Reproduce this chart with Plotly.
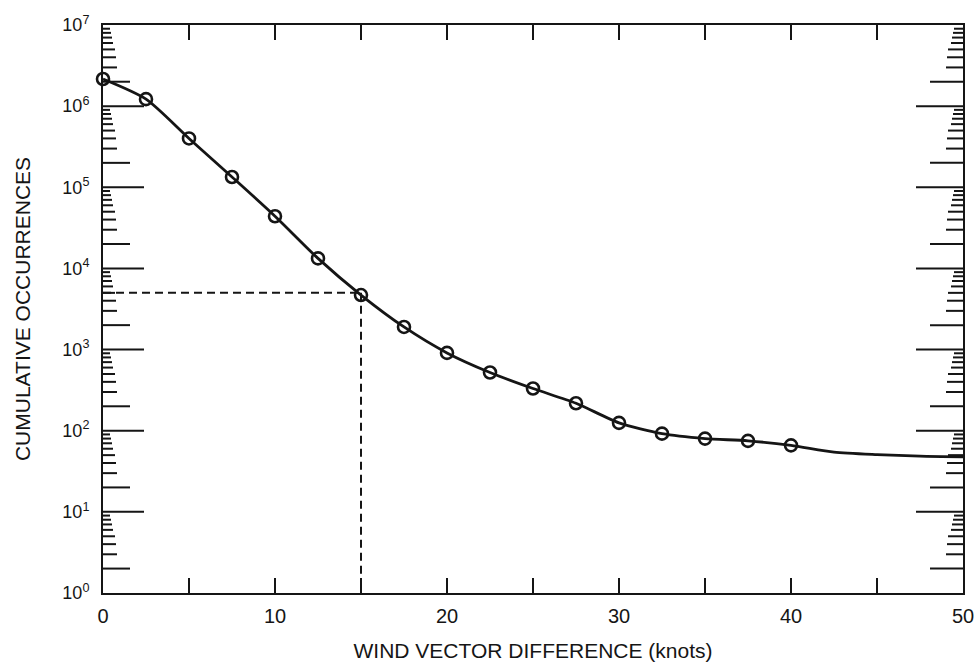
import plotly.graph_objects as go

# Cumulative occurrences observed at 2.5-knot steps of wind vector difference
wind_diff = [0, 2.5, 5, 7.5, 10, 12.5, 15, 17.5, 20, 22.5, 25, 27.5, 30,
             32.5, 35, 37.5, 40]
occurrences = [2.16e6, 1.22e6, 4.0e5, 1.34e5, 4.4e4, 1.33e4, 4.7e3, 1.9e3,
               910, 522, 331, 218, 125, 92, 80, 75, 66]

# Fitted curve continues beyond the last observation
tail_diff = [42.5, 45, 47.5, 50]
tail_occ = [54.5, 50.8, 48.6, 47.6]

# Reference level picked out with dashed guides
ref_diff = 15
ref_occ = 5000

# Axis ticks and labels
x_tickvals = [0, 5, 10, 15, 20, 25, 30, 35, 40, 45, 50]
x_ticktext = ["0", "", "10", "", "20", "", "30", "", "40", "", "50"]
decades = [0, 1, 2, 3, 4, 5, 6, 7]
y_tickvals = [10 ** d for d in decades]
y_ticktext = [f"10<sup>{d}</sup>" for d in decades]

INK = "#151515"
FONT = "Liberation Sans, Arial, Helvetica, sans-serif"

fig = go.Figure()

# dashed guides
fig.add_trace(go.Scatter(
    x=[0, ref_diff], y=[ref_occ, ref_occ], mode="lines",
    line=dict(color=INK, width=2, dash="8px,5px"), hoverinfo="skip",
    showlegend=False))
fig.add_trace(go.Scatter(
    x=[ref_diff, ref_diff], y=[ref_occ, 1], mode="lines",
    line=dict(color=INK, width=2, dash="8px,5px"), hoverinfo="skip",
    showlegend=False))

# smooth curve through the observations
fig.add_trace(go.Scatter(
    x=wind_diff + tail_diff, y=occurrences + tail_occ, mode="lines",
    line=dict(color=INK, width=2.8, shape="spline", smoothing=0.7),
    showlegend=False))

# observation markers
fig.add_trace(go.Scatter(
    x=wind_diff, y=occurrences, mode="markers", cliponaxis=False,
    marker=dict(symbol="circle-open", size=12, color=INK,
                line=dict(width=2.6, color=INK)),
    showlegend=False))

# log-axis minor ticks drawn inward from both vertical axes
left_len = {1: 41, 2: 27, 3: 14, 4: 13, 5: 12, 6: 10, 7: 9, 8: 8, 9: 7}
right_len = {1: 47, 2: 33, 3: 17, 4: 16, 5: 15, 6: 12, 7: 11, 8: 10, 9: 9}
shapes = []
for d in decades[:-1]:
    for m in range(1, 10):
        if m == 1 and d == 0:
            continue
        v = m * 10 ** d
        shapes.append(dict(type="line", xref="x", yref="y",
                           xsizemode="pixel", xanchor=x_tickvals[0],
                           x0=0, x1=left_len[m], y0=v, y1=v,
                           line=dict(color=INK, width=2), layer="above"))
        shapes.append(dict(type="line", xref="x", yref="y",
                           xsizemode="pixel", xanchor=x_tickvals[-1],
                           x0=0, x1=-right_len[m], y0=v, y1=v,
                           line=dict(color=INK, width=2), layer="above"))

fig.update_layout(
    width=974, height=662,
    margin=dict(l=103, r=11, t=25, b=69),
    paper_bgcolor="white", plot_bgcolor="white",
    font=dict(family=FONT, color=INK),
    shapes=shapes,
    xaxis=dict(
        range=[0, 50], tickvals=x_tickvals, ticktext=x_ticktext,
        ticks="inside", ticklen=15, tickwidth=2, tickcolor=INK,
        showline=True, linewidth=2, linecolor=INK, mirror="ticks",
        showgrid=False, zeroline=False, ticklabelstandoff=4,
        automargin=False, ticklabeloverflow="allow",
        tickfont=dict(size=20, family=FONT, color=INK),
        title=dict(text="WIND VECTOR DIFFERENCE (knots)",
                   font=dict(size=21, family=FONT, color=INK), standoff=20),
    ),
    yaxis=dict(
        type="log", range=[0, 7], tickvals=y_tickvals, ticktext=y_ticktext,
        ticks="", showline=True, linewidth=2, linecolor=INK, mirror=True,
        showgrid=False, zeroline=False, ticklabelstandoff=8,
        automargin=False, ticklabeloverflow="allow",
        tickfont=dict(size=18, family=FONT, color=INK),
        title=dict(text="CUMULATIVE OCCURRENCES",
                   font=dict(size=21, family=FONT, color=INK), standoff=26),
    ),
)

fig.write_html("out.html")
